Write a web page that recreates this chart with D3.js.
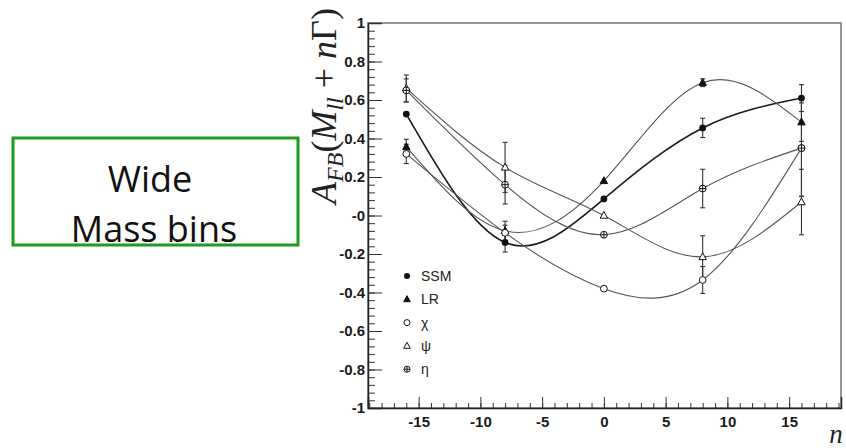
<!DOCTYPE html>
<html>
<head>
<meta charset="utf-8">
<script src="https://cdn.jsdelivr.net/npm/d3@7"></script>
<style>
    body { margin: 0; background: #fff; }
    svg { display: block; }
</style>
</head>
<body>
<svg id="chart" width="846" height="448"></svg>
<script>
    "use strict";
    // values: A_FB at each n
    var nValues = [-16, -8, 0, 8, 16];
    var ssm = [0.527, -0.14, 0.086, 0.455, 0.61];
    var ssmErr = [0, 0.05, 0, 0.05, 0.07];
    var lr = [0.356, -0.08, 0.18, 0.69, 0.485];
    var lrErr = [0.04, 0.05, 0, 0.02, 0.1];
    var chi = [0.32, -0.09, -0.38, -0.335, 0.35];
    var chiErr = [0.05, 0.04, 0, 0.07, 0.25];
    var psi = [0.66, 0.25, 0.0, -0.215, 0.07];
    var psiErr = [0.07, 0.13, 0, 0.11, 0.17];
    var eta = [0.65, 0.16, -0.1, 0.14, 0.35];
    var etaErr = [0.06, 0.1, 0, 0.1, 0.25];
    var seriesNames = ["SSM", "LR", "\u03c7", "\u03c8", "\u03b7"];
    var seriesKeys = ["ssm", "lr", "chi", "psi", "eta"];
    var xTicks = [-15, -10, -5, 0, 5, 10, 15];
    var yTicks = [-1, -0.8, -0.6, -0.4, -0.2, 0, 0.2, 0.4, 0.6, 0.8, 1];

    var svg = d3.select("#chart");
    var x = d3.scaleLinear().domain([-19.1, 19.2]).range([368, 841]);
    var y = d3.scaleLinear().domain([-1, 1]).range([408, 23]);

    var series = [
        { key: "ssm", vals: ssm, err: ssmErr, stroke: "#1a1a1a", width: 1.6 },
        { key: "lr", vals: lr, err: lrErr, stroke: "#555", width: 1.1 },
        { key: "chi", vals: chi, err: chiErr, stroke: "#555", width: 1.1 },
        { key: "psi", vals: psi, err: psiErr, stroke: "#555", width: 1.1 },
        { key: "eta", vals: eta, err: etaErr, stroke: "#555", width: 1.1 }
    ];

    // green caption box
    var boxFont = "'Comic Sans MS', 'Open Sans', sans-serif";
    svg.append("rect").attr("x", 13).attr("y", 138).attr("width", 285).attr("height", 107)
        .attr("fill", "#fff").attr("stroke", "#1f9a1f").attr("stroke-width", 3);
    svg.append("text").attr("x", 150).attr("y", 192).attr("text-anchor", "middle")
        .style("font-family", boxFont).style("font-size", "36px").attr("fill", "#111")
        .text("Wide");
    svg.append("text").attr("x", 154).attr("y", 242).attr("text-anchor", "middle")
        .style("font-family", boxFont).style("font-size", "36px").attr("fill", "#111")
        .text("Mass bins");

    // frame
    svg.append("rect").attr("x", 368).attr("y", 23).attr("width", 473).attr("height", 385)
        .attr("fill", "none").attr("stroke", "#777").attr("stroke-width", 1.5);

    var tickFont = function (sel) {
        sel.selectAll("text").style("font-family", "'Liberation Sans', Arial, sans-serif")
            .style("font-size", "15px").style("font-weight", "bold").attr("fill", "#1a1a1a");
    };
    var fmt = function (d) {
        if (d === 0) { return "-0"; }
        return String(d);
    };

    // y axis: minor then major, ticks pointing inside
    svg.append("g").attr("transform", "translate(368,0)")
        .call(d3.axisLeft(y).tickValues(d3.range(-50, 51, 2).map(function (v) { return v / 50; }))
            .tickSize(-7).tickFormat(""))
        .call(function (g) { g.select(".domain").remove(); g.selectAll("line").attr("stroke", "#333"); });
    svg.append("g").attr("transform", "translate(368,0)")
        .call(d3.axisLeft(y).tickValues(yTicks).tickSize(-14).tickPadding(3).tickFormat(fmt))
        .call(function (g) {
            g.select(".domain").attr("stroke", "#222").attr("stroke-width", 1.5);
            g.selectAll("line").attr("stroke", "#333");
            tickFont(g);
        });

    // x axis
    svg.append("g").attr("transform", "translate(0,408)")
        .call(d3.axisBottom(x).tickValues(d3.range(-19, 20, 1)).tickSize(-5).tickFormat(""))
        .call(function (g) { g.select(".domain").remove(); g.selectAll("line").attr("stroke", "#333"); });
    svg.append("g").attr("transform", "translate(0,408)")
        .call(d3.axisBottom(x).tickValues(xTicks).tickSize(-11).tickPadding(6).tickFormat(String))
        .call(function (g) {
            g.select(".domain").attr("stroke", "#222").attr("stroke-width", 1.5);
            g.selectAll("line").attr("stroke", "#333");
            g.selectAll("text").attr("dy", "0.85em");
            tickFont(g);
        });

    // axis titles
    var ylab = svg.append("text").attr("transform", "translate(336,106) rotate(-90)")
        .attr("text-anchor", "middle")
        .style("font-family", "'Liberation Serif', 'DejaVu Serif', serif").style("font-size", "36px")
        .attr("fill", "#222");
    ylab.append("tspan").style("font-style", "italic").text("A");
    ylab.append("tspan").style("font-style", "italic").style("font-size", "24px").attr("dy", 7).text("FB");
    ylab.append("tspan").attr("dy", -7).text("(");
    ylab.append("tspan").style("font-style", "italic").text("M");
    ylab.append("tspan").style("font-style", "italic").style("font-size", "24px").attr("dy", 7).text("ll");
    ylab.append("tspan").attr("dy", -7).text(" + ");
    ylab.append("tspan").style("font-style", "italic").text("n");
    ylab.append("tspan").text("\u0393)");

    svg.append("text").attr("x", 836).attr("y", 443).attr("text-anchor", "middle")
        .style("font-family", "'Liberation Serif', 'DejaVu Serif', serif").style("font-size", "27px")
        .style("font-style", "italic").attr("fill", "#222").text("n");

    // curves
    var line = d3.line().curve(d3.curveNatural)
        .x(function (d) { return x(d[0]); })
        .y(function (d) { return y(d[1]); });

    var plot = svg.append("g");
    series.forEach(function (s) {
        var pts = nValues.map(function (n, i) { return [n, s.vals[i]]; });
        plot.append("path").datum(pts).attr("d", line)
            .attr("fill", "none").attr("stroke", s.stroke).attr("stroke-width", s.width);
    });

    // error bars
    series.forEach(function (s) {
        nValues.forEach(function (n, i) {
            if (!s.err[i]) { return; }
            var cx = x(n), y0 = y(s.vals[i] - s.err[i]), y1 = y(s.vals[i] + s.err[i]);
            plot.append("line").attr("x1", cx).attr("x2", cx).attr("y1", y0).attr("y2", y1)
                .attr("stroke", "#333").attr("stroke-width", 1.1);
            [y0, y1].forEach(function (yy) {
                plot.append("line").attr("x1", cx - 2.5).attr("x2", cx + 2.5).attr("y1", yy).attr("y2", yy)
                    .attr("stroke", "#333").attr("stroke-width", 1.1);
            });
        });
    });

    // markers
    function marker(g, key, cx, cy, r) {
        var tri = function (filled) {
            var h = r * 2;
            g.append("path")
                .attr("d", "M" + cx + "," + (cy - h * 0.6) + "L" + (cx + r * 1.1) + "," + (cy + h * 0.4) +
                    "L" + (cx - r * 1.1) + "," + (cy + h * 0.4) + "Z")
                .attr("fill", filled ? "#111" : "#fff").attr("stroke", "#111").attr("stroke-width", 1);
        };
        switch (key) {
        case "ssm":
            g.append("circle").attr("cx", cx).attr("cy", cy).attr("r", r).attr("fill", "#111");
            break;
        case "lr":
            tri(true);
            break;
        case "chi":
            g.append("circle").attr("cx", cx).attr("cy", cy).attr("r", r)
                .attr("fill", "#fff").attr("stroke", "#111").attr("stroke-width", 1);
            break;
        case "psi":
            tri(false);
            break;
        case "eta":
            g.append("circle").attr("cx", cx).attr("cy", cy).attr("r", r)
                .attr("fill", "#fff").attr("stroke", "#111").attr("stroke-width", 1);
            g.append("path").attr("d", "M" + (cx - r) + "," + cy + "H" + (cx + r) + "M" + cx + "," + (cy - r) + "V" + (cy + r))
                .attr("stroke", "#111").attr("stroke-width", 1);
            break;
        default: break;
        }
    }

    series.forEach(function (s) {
        nValues.forEach(function (n, i) {
            marker(plot, s.key, x(n), y(s.vals[i]), 3.4);
        });
    });

    // legend
    var legend = svg.append("g");
    seriesKeys.forEach(function (k, i) {
        var ly = 276 + i * 23.3;
        marker(legend, k, 407, ly, 3);
        legend.append("text").attr("x", 421).attr("y", ly + 5)
            .style("font-family", "'Liberation Sans', Arial, sans-serif").style("font-size", "14px")
            .attr("fill", "#222").text(seriesNames[i]);
    });
</script>
</body>
</html>
